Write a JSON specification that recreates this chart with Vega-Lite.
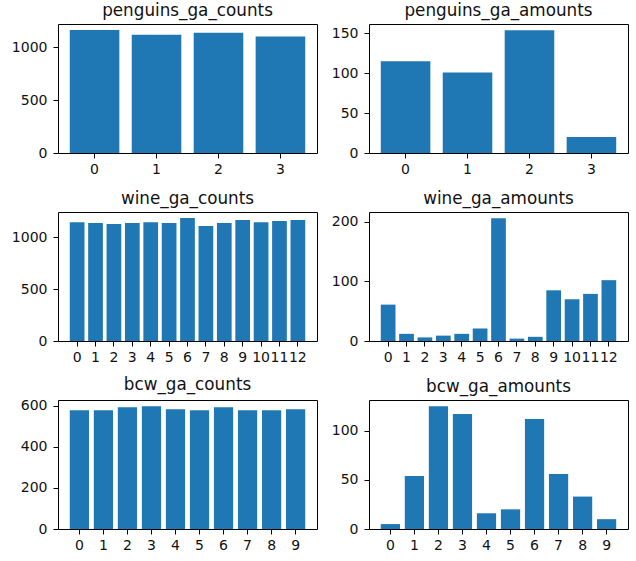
{
  "$schema": "https://vega.github.io/schema/vega-lite/v6.json",
  "padding": {"left": 10, "top": 2, "right": 7, "bottom": 5},
  "background": "white",
  "datasets": {
    "penguins_ga_counts": [{"x":0,"value":1164},{"x":1,"value":1120},{"x":2,"value":1139},{"x":3,"value":1104}],
    "penguins_ga_amounts": [{"x":0,"value":115},{"x":1,"value":101},{"x":2,"value":154},{"x":3,"value":20}],
    "wine_ga_counts": [{"x":0,"value":1147},{"x":1,"value":1138},{"x":2,"value":1128},{"x":3,"value":1138},{"x":4,"value":1147},{"x":5,"value":1138},{"x":6,"value":1186},{"x":7,"value":1109},{"x":8,"value":1138},{"x":9,"value":1167},{"x":10,"value":1147},{"x":11,"value":1157},{"x":12,"value":1167}],
    "wine_ga_amounts": [{"x":0,"value":61},{"x":1,"value":12},{"x":2,"value":6},{"x":3,"value":9},{"x":4,"value":12},{"x":5,"value":21},{"x":6,"value":206},{"x":7,"value":4},{"x":8,"value":7},{"x":9,"value":85},{"x":10,"value":70},{"x":11,"value":79},{"x":12,"value":102}],
    "bcw_ga_counts": [{"x":0,"value":577},{"x":1,"value":577},{"x":2,"value":592},{"x":3,"value":597},{"x":4,"value":582},{"x":5,"value":577},{"x":6,"value":592},{"x":7,"value":577},{"x":8,"value":577},{"x":9,"value":582}],
    "bcw_ga_amounts": [{"x":0,"value":5},{"x":1,"value":54},{"x":2,"value":125},{"x":3,"value":117},{"x":4,"value":16},{"x":5,"value":20},{"x":6,"value":112},{"x":7,"value":56},{"x":8,"value":33},{"x":9,"value":10}]
  },
  "columns": 2,
  "bounds": "flush",
  "spacing": {"row": 59, "column": 52},
  "concat": [
    {
      "title": "penguins_ga_counts", "width": 259, "height": 129,
      "data": {"name": "penguins_ga_counts"}, "mark": "bar",
      "encoding": {
        "x": {"field": "x", "type": "ordinal", "scale": {"paddingInner": 0.2, "paddingOuter": 0.19}, "axis": {"title": null}},
        "y": {"field": "value", "type": "quantitative", "scale": {"domain": [0, 1222], "nice": false}, "axis": {"values": [0, 500, 1000], "title": null}}
      }
    },
    {
      "title": "penguins_ga_amounts", "width": 259, "height": 129,
      "data": {"name": "penguins_ga_amounts"}, "mark": "bar",
      "encoding": {
        "x": {"field": "x", "type": "ordinal", "scale": {"paddingInner": 0.2, "paddingOuter": 0.19}, "axis": {"title": null}},
        "y": {"field": "value", "type": "quantitative", "scale": {"domain": [0, 161.7], "nice": false}, "axis": {"values": [0, 50, 100, 150], "title": null}}
      }
    },
    {
      "title": "wine_ga_counts", "width": 259, "height": 129,
      "data": {"name": "wine_ga_counts"}, "mark": "bar",
      "encoding": {
        "x": {"field": "x", "type": "ordinal", "scale": {"paddingInner": 0.2, "paddingOuter": 0.64}, "axis": {"title": null}},
        "y": {"field": "value", "type": "quantitative", "scale": {"domain": [0, 1245], "nice": false}, "axis": {"values": [0, 500, 1000], "title": null}}
      }
    },
    {
      "title": "wine_ga_amounts", "width": 259, "height": 129,
      "data": {"name": "wine_ga_amounts"}, "mark": "bar",
      "encoding": {
        "x": {"field": "x", "type": "ordinal", "scale": {"paddingInner": 0.2, "paddingOuter": 0.64}, "axis": {"title": null}},
        "y": {"field": "value", "type": "quantitative", "scale": {"domain": [0, 216.3], "nice": false}, "axis": {"values": [0, 100, 200], "title": null}}
      }
    },
    {
      "title": "bcw_ga_counts", "width": 259, "height": 129,
      "data": {"name": "bcw_ga_counts"}, "mark": "bar",
      "encoding": {
        "x": {"field": "x", "type": "ordinal", "scale": {"paddingInner": 0.2, "paddingOuter": 0.49}, "axis": {"title": null}},
        "y": {"field": "value", "type": "quantitative", "scale": {"domain": [0, 626.9], "nice": false}, "axis": {"values": [0, 200, 400, 600], "title": null}}
      }
    },
    {
      "title": "bcw_ga_amounts", "width": 259, "height": 129,
      "data": {"name": "bcw_ga_amounts"}, "mark": "bar",
      "encoding": {
        "x": {"field": "x", "type": "ordinal", "scale": {"paddingInner": 0.2, "paddingOuter": 0.49}, "axis": {"title": null}},
        "y": {"field": "value", "type": "quantitative", "scale": {"domain": [0, 131.25], "nice": false}, "axis": {"values": [0, 50, 100], "title": null}}
      }
    }
  ],
  "config": {
    "view": {"stroke": "#000", "strokeWidth": 1, "fill": null},
    "axis": {"domain": false, "grid": false, "tickColor": "#000", "tickSize": 5, "tickWidth": 1, "labelFont": "DejaVu Sans", "labelFontSize": 14, "labelColor": "#111", "labelOverlap": false, "title": null},
    "axisX": {"labelAngle": 0, "labelPadding": 4},
    "axisY": {"labelPadding": 6, "format": "d"},
    "title": {"font": "DejaVu Sans", "fontSize": 16.8, "fontWeight": "normal", "color": "#111", "offset": 4.5, "baseline": "bottom", "anchor": "middle"},
    "bar": {"color": "#1f77b4"}
  }
}
